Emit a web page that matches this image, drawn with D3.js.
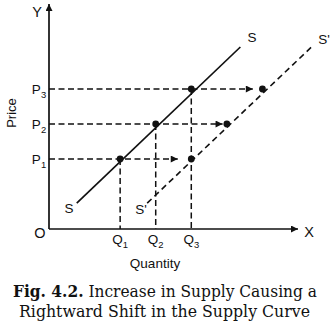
<!DOCTYPE html>
<html>
<head>
<meta charset="utf-8">
<script src="https://cdn.jsdelivr.net/npm/d3@7"></script>
<style>
  html, body { margin: 0; padding: 0; background: #fff; }
  svg { display: block; }
</style>
</head>
<body>
<svg id="chart" width="336" height="325"></svg>
<script>
// Supply curve S and shifted curve S' (quantity, price)
const supplyS = [[0.78, 0.74], [5.38, 5.2]];
const supplyS2 = [[2.76, 0.74], [7.38, 5.2]];
// Price levels and the quantities supplied at them
const priceLevels = [2, 3, 4];
const priceLabels = ["1", "2", "3"];
const qtyOnS = [2, 3, 4];
const qtyOnS2 = [4, 5, 6];
const qtyLabels = ["1", "2", "3"];
// Where each shift arrow stops along its price line
const arrowEnds = [3.62, 4.88, 5.73];

const svg = d3.select("#chart");
const x = d3.scaleLinear().domain([0, 7]).range([49, 298]);
const y = d3.scaleLinear().domain([0, 6.3]).range([229, 8.5]);
const ink = "#111";

const defs = svg.append("defs");
defs.append("marker")
  .attr("id", "head").attr("viewBox", "0 0 10 10")
  .attr("refX", 10).attr("refY", 5)
  .attr("markerWidth", 9).attr("markerHeight", 7)
  .attr("markerUnits", "userSpaceOnUse")
  .attr("orient", "auto")
  .append("path").attr("d", "M0,0 L10,5 L0,10 Z").attr("fill", ink);

// axes
svg.append("line")
  .attr("x1", x(0)).attr("y1", y(0)).attr("x2", x(0)).attr("y2", 4)
  .attr("stroke", ink).attr("stroke-width", 1.7).attr("marker-end", "url(#head)");
svg.append("line")
  .attr("x1", x(0)).attr("y1", y(0)).attr("x2", x(7)).attr("y2", y(0))
  .attr("stroke", ink).attr("stroke-width", 1.7).attr("marker-end", "url(#head)");

const dash = "6,3.5";

// dashed guides from the price axis toward S'
svg.selectAll("line.hguide").data(priceLevels).join("line")
  .attr("class", "hguide")
  .attr("x1", x(0)).attr("x2", (d, i) => x(arrowEnds[i]))
  .attr("y1", d => y(d)).attr("y2", d => y(d))
  .attr("stroke", ink).attr("stroke-width", 1.5)
  .attr("stroke-dasharray", dash).attr("marker-end", "url(#head)");

// dashed drops from points on S to the quantity axis
svg.selectAll("line.vguide").data(qtyOnS).join("line")
  .attr("class", "vguide")
  .attr("x1", d => x(d)).attr("x2", d => x(d))
  .attr("y1", (d, i) => y(priceLevels[i])).attr("y2", y(0))
  .attr("stroke", ink).attr("stroke-width", 1.5)
  .attr("stroke-dasharray", dash);

const line = d3.line().x(d => x(d[0])).y(d => y(d[1]));
svg.append("path").attr("d", line(supplyS))
  .attr("fill", "none").attr("stroke", ink).attr("stroke-width", 1.7);
svg.append("path").attr("d", line(supplyS2))
  .attr("fill", "none").attr("stroke", ink).attr("stroke-width", 1.6)
  .attr("stroke-dasharray", "6,4");

// equilibrium points
svg.selectAll("circle.s").data(qtyOnS).join("circle")
  .attr("cx", d => x(d)).attr("cy", (d, i) => y(priceLevels[i]))
  .attr("r", 3.4).attr("fill", ink);
svg.selectAll("circle.s2").data(qtyOnS2).join("circle")
  .attr("cx", d => x(d)).attr("cy", (d, i) => y(priceLevels[i]))
  .attr("r", 3.4).attr("fill", ink);

const sans = "Liberation Sans, Arial, sans-serif";
function label(px, py, main, sub, size, anchor) {
  const t = svg.append("text")
    .attr("x", px).attr("y", py)
    .attr("font-family", sans).attr("font-size", size)
    .attr("fill", ink).attr("text-anchor", anchor || "middle");
  t.append("tspan").text(main);
  if (sub) t.append("tspan").attr("font-size", size * 0.7).attr("dy", 3.5).text(sub);
  return t;
}

// price labels
priceLevels.forEach((p, i) => label(39, y(p) + 5, "P", priceLabels[i], 13.5));
// quantity labels
qtyOnS.forEach((q, i) => label(x(q), 244, "Q", qtyLabels[i], 13.5));

label(37, 17, "Y", null, 14.5);
label(40, 238, "O", null, 14.5);
label(309, 237, "X", null, 14.5);
label(252, 42, "S", null, 13.5);
label(324, 44, "S'", null, 13.5);
label(69, 213, "S", null, 13.5);
label(141, 214, "S'", null, 13.5);

svg.append("text")
  .attr("transform", "translate(16,113) rotate(-90)")
  .attr("font-family", sans).attr("font-size", 13)
  .attr("text-anchor", "middle").attr("fill", ink).text("Price");
label(155, 268, "Quantity", null, 13.5);

// caption
const serif = "DejaVu Serif, Liberation Serif, serif";
const cap1 = svg.append("text")
  .attr("x", 13).attr("y", 297)
  .attr("textLength", 304).attr("lengthAdjust", "spacingAndGlyphs")
  .attr("font-family", serif).attr("font-size", 16).attr("fill", ink);
cap1.append("tspan").attr("font-weight", "bold").text("Fig. 4.2.");
cap1.append("tspan").text(" Increase in Supply Causing a");
svg.append("text")
  .attr("x", 19).attr("y", 317)
  .attr("textLength", 291).attr("lengthAdjust", "spacingAndGlyphs")
  .attr("font-family", serif).attr("font-size", 16).attr("fill", ink)
  .text("Rightward Shift in the Supply Curve");
</script>
</body>
</html>
